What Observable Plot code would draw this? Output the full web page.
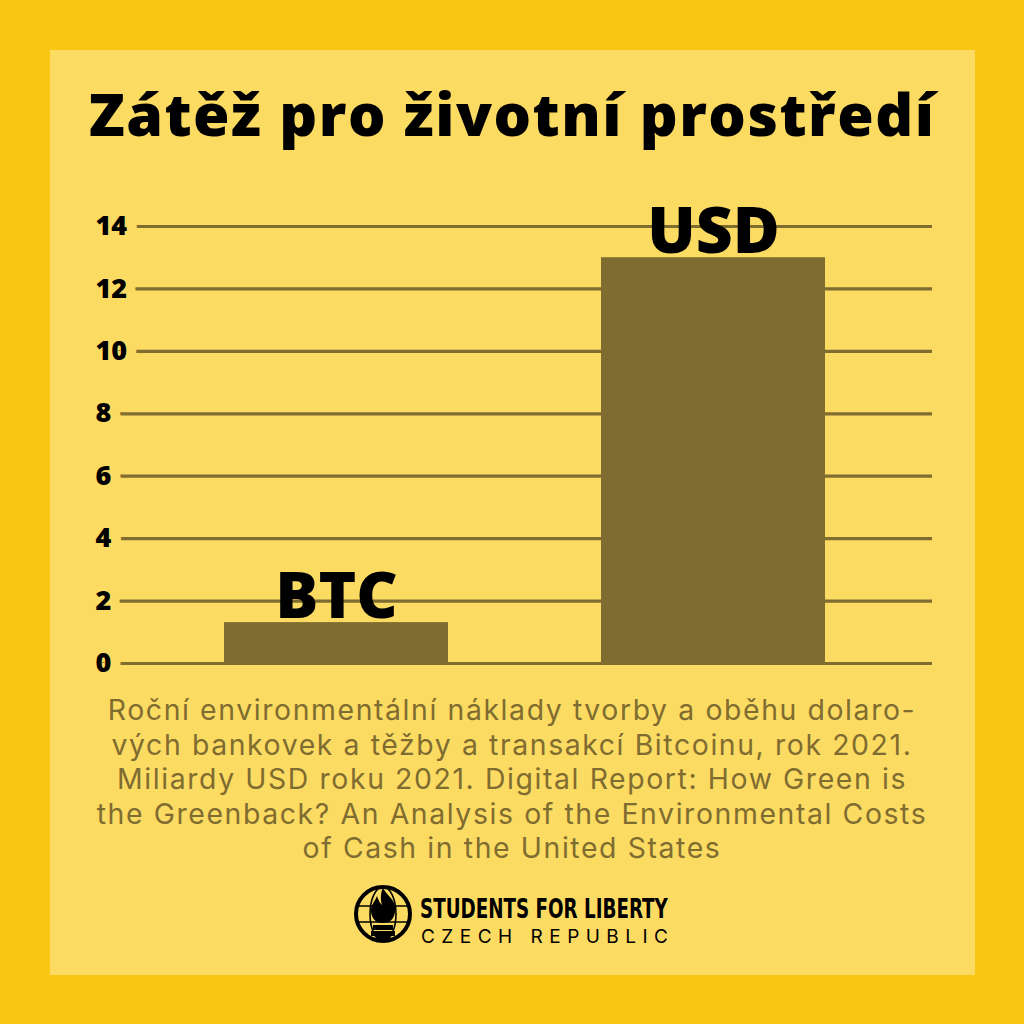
<!DOCTYPE html>
<html>
<head>
<meta charset="utf-8">
<script src="https://cdn.jsdelivr.net/npm/d3@7"></script>
<script src="https://cdn.jsdelivr.net/npm/@observablehq/plot@0.6"></script>
<style>
  html, body { margin: 0; padding: 0; }
  body { width: 1024px; height: 1024px; background: #F9C616; position: relative; overflow: hidden; font-family: "Open Sans", sans-serif; }
  #panel { position: absolute; left: 50px; top: 50px; width: 925px; height: 925px; background: #FCDB63; }
  #title { position: absolute; left: 0; width: 1024px; top: 77px; text-align: center; font-size: 59px; font-weight: 800; line-height: 72px; color: #000; letter-spacing: 1.5px; }
  #chart { position: absolute; left: 50px; top: 150px; }
  #caption { position: absolute; left: 0; width: 1024px; top: 693px; text-align: center; font-family: Inter, sans-serif; font-size: 28.4px; line-height: 34.5px; color: #7F6C30; letter-spacing: 1.6px; }
  #caption div { white-space: nowrap; }
  #logo { position: absolute; left: 340px; top: 870px; overflow: visible; }
</style>
</head>
<body>
<div id="panel"></div>
<div id="title">Zátěž pro životní prostředí</div>
<div id="chart"></div>
<div id="caption"></div>
<svg id="logo" width="350" height="90" viewBox="0 0 350 90">
  <g transform="translate(43,44)">
    <circle r="27" fill="none" stroke="#000" stroke-width="4"/>
    <ellipse rx="13" ry="27" fill="none" stroke="#000" stroke-width="1.6"/>
    <line x1="-27" y1="-8" x2="27" y2="-8" stroke="#000" stroke-width="1.6"/>
    <line x1="-27" y1="8" x2="27" y2="8" stroke="#000" stroke-width="1.6"/>
    <path d="M0,-26 C4,-18 14,-14 12,-2 C11,6 6,9 0,9 C-6,9 -11,6 -12,-2 C-13,-9 -8,-12 -6,-18 C-4,-12 -2,-10 -1,-9 C-3,-16 -2,-22 0,-26 Z" fill="#000"/>
    <rect x="-10" y="11" width="20" height="5" fill="#000"/>
    <rect x="-12" y="17" width="24" height="5" fill="#000"/>
    <rect x="-7" y="22" width="14" height="4" fill="#000"/>
  </g>
  <text id="sfl" x="80" y="48" font-family="Liberation Sans Narrow, DejaVu Sans Condensed, sans-serif" font-weight="700" font-size="27" fill="#000">STUDENTS FOR LIBERTY</text>
  <text id="cz" x="81" y="73" font-family="Inter, sans-serif" font-weight="400" font-size="19" textLength="247" lengthAdjust="spacing" fill="#000">CZECH REPUBLIC</text>
</svg>
<script>
const categories = ["BTC", "USD"];
const values = [1.31, 13.0];
const yTicks = [0, 2, 4, 6, 8, 10, 12, 14];
const captionLines = [
  "Roční environmentální náklady tvorby a oběhu dolaro-",
  "vých bankovek a těžby a transakcí Bitcoinu, rok 2021.",
  "Miliardy USD roku 2021. Digital Report: How Green is",
  "the Greenback? An Analysis of the Environmental Costs",
  "of Cash in the United States"
];

const data = categories.map((c, i) => ({category: c, value: values[i]}));
const olive = "#7F6C30";
const panel = "#FCDB63";

const chart = Plot.plot({
  width: 925,
  height: 530,
  marginLeft: 45,
  marginRight: 43,
  marginTop: 76,
  marginBottom: 17,
  style: {background: "transparent", fontFamily: "Open Sans, sans-serif"},
  x: {domain: categories, paddingInner: 0.407, paddingOuter: 0.311, align: 0.545, axis: null},
  y: {domain: [0, 14], axis: null},
  marks: [
    Plot.ruleY(yTicks, {stroke: olive, strokeWidth: 3.2}),
    Plot.barY(data, {x: "category", y: "value", fill: olive}),
    Plot.text(yTicks, {
      y: d => d, text: d => String(d), frameAnchor: "left", textAnchor: "start",
      fontSize: 27, fontWeight: 800, fill: "#000",
      stroke: panel, strokeWidth: 20, strokeLinejoin: "round", paintOrder: "stroke"
    }),
    Plot.text(data, {
      x: "category", y: "value", text: "category", lineAnchor: "bottom", dy: -5,
      fontSize: 64, fontWeight: 800, fill: "#000"
    })
  ]
});
document.getElementById("chart").appendChild(chart);
const cap = document.getElementById("caption");
captionLines.forEach(t => {
  const d = document.createElement("div");
  d.textContent = t;
  cap.appendChild(d);
});

// fit the condensed logo wordmark to its width by horizontal scaling
const sfl = document.getElementById("sfl");
const w = sfl.getComputedTextLength();
const k = 248 / w;
sfl.setAttribute("transform", `translate(80,0) scale(${k},1) translate(-80,0)`);
</script>
</body>
</html>
